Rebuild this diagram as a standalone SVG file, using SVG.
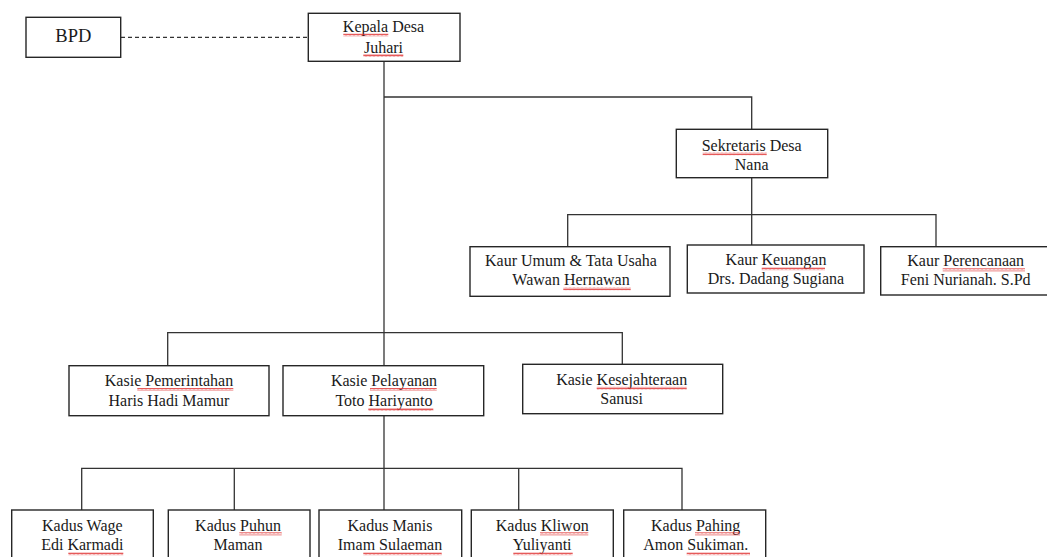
<svg xmlns="http://www.w3.org/2000/svg" width="1047" height="557" viewBox="0 0 1047 557">
<style>
.box{fill:#fff;stroke:#262626;stroke-width:1.4}
.ln{fill:none;stroke:#333;stroke-width:1.3}
.dash{fill:none;stroke:#333;stroke-width:1.3;stroke-dasharray:4 3}
text{font-family:"Liberation Serif","Times New Roman",serif;font-size:16px;fill:#1a1a1a;text-anchor:middle}
.big{font-size:18.5px}
.sq{fill:url(#squiggle)}
</style>
<defs>
<pattern id="squiggle" x="0" y="0" width="4" height="3" patternUnits="userSpaceOnUse">
<path d="M0,2.5 L1,0.5 L2,2.5 L3,0.5 L4,2.5" fill="none" stroke="#e03030" stroke-width="0.8"/>
</pattern>
</defs>
<rect width="1047" height="557" fill="#fff"/>
<g id="connectors">
<path class="dash" d="M121,37.3 H308"/>
<path class="ln" d="M384,61.3 V365.7"/>
<path class="ln" d="M384,97 H751.7 V129.3"/>
<path class="ln" d="M751.7,177.7 V246"/>
<path class="ln" d="M567.7,246.7 V214.7 H936 V246.7"/>
<path class="ln" d="M167.7,365.7 V332.7 H622.3 V364.3"/>
<path class="ln" d="M384,415.7 V510"/>
<path class="ln" d="M81.7,510 V468.3 H682 V510"/>
<path class="ln" d="M234.3,468.3 V510"/>
<path class="ln" d="M518.7,468.3 V510"/>
</g>
<g id="bpd">
<rect class="box" x="26" y="17.3" width="94.7" height="40"/>
<text class="big" x="73.3" y="41.7">BPD</text>
</g>
<g id="kepala-desa">
<rect class="box" x="308.3" y="13.3" width="151.7" height="48"/>
<text x="383.5" y="32.3">Kepala Desa</text>
<text x="383.5" y="52.7">Juhari</text>
<rect class="sq" x="343.3" y="33.5" width="45" height="3"/>
<rect class="sq" x="363.3" y="54" width="40" height="3"/>
</g>
<g id="sekretaris-desa">
<rect class="box" x="676.3" y="129.3" width="151.4" height="48.4"/>
<text x="751.7" y="150.7">Sekretaris Desa</text>
<text x="751.7" y="170">Nana</text>
<rect class="sq" x="702.7" y="152.3" width="64" height="3"/>
</g>
<g id="kaur-umum">
<rect class="box" x="470" y="246.7" width="200" height="49.6"/>
<text x="571" y="265.7">Kaur Umum &amp; Tata Usaha</text>
<text x="571" y="285">Wawan Hernawan</text>
<rect class="sq" x="563.3" y="287.3" width="67.4" height="3"/>
</g>
<g id="kaur-keuangan">
<rect class="box" x="687.3" y="245" width="176.7" height="48"/>
<text x="776" y="264.5">Kaur Keuangan</text>
<text x="776" y="284.3">Drs. Dadang Sugiana</text>
<rect class="sq" x="761.7" y="267.3" width="63.3" height="3"/>
</g>
<g id="kaur-perencanaan">
<rect class="box" x="880.7" y="246.7" width="170" height="48.3"/>
<text x="965.7" y="265.7">Kaur Perencanaan</text>
<text x="965.7" y="285">Feni Nurianah. S.Pd</text>
<rect class="sq" x="942.7" y="268.3" width="82.3" height="3"/>
</g>
<g id="kasie-pemerintahan">
<rect class="box" x="69" y="365.7" width="200" height="50"/>
<text x="169" y="385.7">Kasie Pemerintahan</text>
<text x="169" y="405.7">Haris Hadi Mamur</text>
<rect class="sq" x="137.3" y="388" width="96" height="3"/>
</g>
<g id="kasie-pelayanan">
<rect class="box" x="283" y="365.7" width="200.7" height="50"/>
<text x="384" y="385.7">Kasie Pelayanan</text>
<text x="384" y="405.7">Toto Hariyanto</text>
<rect class="sq" x="370" y="388" width="66.7" height="3"/>
<rect class="sq" x="368.3" y="408" width="65" height="3"/>
</g>
<g id="kasie-kesejahteraan">
<rect class="box" x="522.7" y="364.3" width="200" height="49.4"/>
<text x="621.7" y="385">Kasie Kesejahteraan</text>
<text x="621.7" y="404">Sanusi</text>
<rect class="sq" x="596.7" y="386.7" width="90" height="3"/>
</g>
<g id="kadus-wage">
<rect class="box" x="11.7" y="510" width="141.6" height="70"/>
<text x="82.3" y="530.7">Kadus Wage</text>
<text x="82.3" y="550">Edi Karmadi</text>
<rect class="sq" x="68.3" y="552.3" width="55" height="3"/>
</g>
<g id="kadus-puhun">
<rect class="box" x="168.3" y="510" width="141.7" height="70"/>
<text x="238" y="530.7">Kadus Puhun</text>
<text x="238" y="550">Maman</text>
<rect class="sq" x="239.3" y="532.3" width="42.4" height="3"/>
</g>
<g id="kadus-manis">
<rect class="box" x="319" y="510" width="142.7" height="70"/>
<text x="390" y="530.7">Kadus Manis</text>
<text x="390" y="550">Imam Sulaeman</text>
<rect class="sq" x="363.3" y="552.3" width="78.4" height="3"/>
</g>
<g id="kadus-kliwon">
<rect class="box" x="471.3" y="510" width="142" height="70"/>
<text x="542.2" y="530.7">Kadus Kliwon</text>
<text x="542.2" y="550">Yuliyanti</text>
<rect class="sq" x="540" y="532.3" width="48.3" height="3"/>
<rect class="sq" x="513.3" y="552.3" width="59.4" height="3"/>
</g>
<g id="kadus-pahing">
<rect class="box" x="623.7" y="510" width="142" height="70"/>
<text x="695.7" y="530.7">Kadus Pahing</text>
<text x="695.7" y="550">Amon Sukiman.</text>
<rect class="sq" x="695" y="532.3" width="45" height="3"/>
<rect class="sq" x="686.7" y="552.3" width="63.3" height="3"/>
</g>
</svg>
